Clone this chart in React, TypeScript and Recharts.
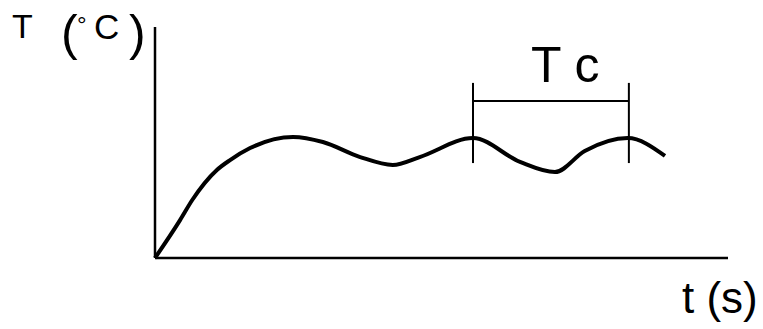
import {
  LineChart,
  Line,
  XAxis,
  YAxis,
  ReferenceLine,
} from "recharts";

// time (arbitrary units) and temperature (arbitrary units)
const TIME = [0, 4.4, 6.5, 10.8, 13.1, 16.6, 24.1, 29.3, 35.8, 41.5, 46.2, 55.5, 63.7, 69.8, 75.0, 82.5, 89.0];
const TEMP = [0, 16.5, 25.1, 38.1, 42.4, 47.6, 52.4, 50.2, 43.7, 40.3, 43.7, 51.9, 41.6, 37.2, 46.3, 51.9, 44.2];

// cycle period markers (Tc)
const TC_START = 55.5;
const TC_END = 82.7;
const TC_MARK_LOW = 41.1;
const TC_MARK_HIGH = 75.8;
const TC_BAR = 68.0;

const X_DOMAIN = [0, 100];
const Y_DOMAIN = [0, 100];

const data = TIME.map((t, i) => ({ t, T: TEMP[i] }));

const FONT = "'Liberation Sans', Arial, sans-serif";

function renderYLabel() {
  return (
    <text x={12} y={38} fontFamily={FONT} fill="#000" fontSize={34}>
      T
      <tspan x={61} y={50} fontSize={50}>(</tspan>
      <tspan x={77} y={33} fontSize={24}>°</tspan>
      <tspan x={94} y={39} fontSize={35}>C</tspan>
      <tspan x={129} y={50} fontSize={50}>)</tspan>
    </text>
  );
}

function renderXLabel() {
  return (
    <text x={682} y={313} fontFamily={FONT} fill="#000" fontSize={44}>
      t (s)
    </text>
  );
}

function renderTcLabel() {
  return (
    <text x={531} y={82} fontFamily={FONT} fill="#000" fontSize={50}>
      T c
    </text>
  );
}

export default function App() {
  return (
    <div style={{ position: "absolute", left: 0, top: 0, width: 763, height: 329, background: "#fff" }}>
      <LineChart
        width={763}
        height={329}
        data={data}
        margin={{ top: 27, right: 35, bottom: 71, left: 155 }}
      >
        <XAxis type="number" dataKey="t" domain={X_DOMAIN} hide />
        <YAxis type="number" domain={Y_DOMAIN} hide />
        {/* axes drawn as lines on the zero of each scale */}
        <ReferenceLine
          x={0}
          stroke="#000"
          strokeWidth={2.5}
          label={{ content: renderYLabel }}
        />
        <ReferenceLine
          y={0}
          stroke="#000"
          strokeWidth={2.5}
          label={{ content: renderXLabel }}
        />
        <ReferenceLine
          segment={[{ x: TC_START, y: TC_MARK_LOW }, { x: TC_START, y: TC_MARK_HIGH }]}
          stroke="#000"
          strokeWidth={2}
        />
        <ReferenceLine
          segment={[{ x: TC_END, y: TC_MARK_LOW }, { x: TC_END, y: TC_MARK_HIGH }]}
          stroke="#000"
          strokeWidth={2}
        />
        <ReferenceLine
          segment={[{ x: TC_START, y: TC_BAR }, { x: TC_END, y: TC_BAR }]}
          stroke="#000"
          strokeWidth={2}
          label={{ content: renderTcLabel }}
        />
        <Line
          type="monotoneX"
          dataKey="T"
          stroke="#000"
          strokeWidth={4}
          dot={false}
          activeDot={false}
          isAnimationActive={false}
        />
      </LineChart>
    </div>
  );
}
